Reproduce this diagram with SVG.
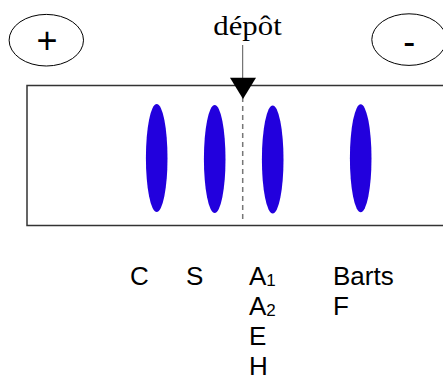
<svg xmlns="http://www.w3.org/2000/svg" width="443" height="376" viewBox="0 0 443 376">
<style>
.lbl{font-family:"Liberation Sans",Arial,sans-serif;font-size:26px;fill:#000}
.sub{font-size:17px}
.sign{font-family:"Liberation Sans",Arial,sans-serif;font-size:36px;fill:#000}
.band{fill:#2200dd}
.pole{fill:none;stroke:#000;stroke-width:1}
</style>
<rect width="443" height="376" fill="#fff"/>
<g id="gel"><rect x="27" y="85.5" width="430" height="140" fill="none" stroke="#333" stroke-width="1.5"/></g>
<g id="anode"><ellipse class="pole" cx="46.3" cy="40.2" rx="37.2" ry="25.8"/><text class="sign" x="47" y="53" text-anchor="middle">+</text></g>
<g id="cathode"><ellipse class="pole" cx="409" cy="39.6" rx="37.2" ry="25.8"/><text class="sign" x="409.3" y="54" text-anchor="middle">-</text></g>
<g id="bands">
<ellipse class="band" cx="156.7" cy="158" rx="10.8" ry="54"/>
<ellipse class="band" cx="214.7" cy="159" rx="10.8" ry="54"/>
<ellipse class="band" cx="272.7" cy="159.5" rx="10.8" ry="54"/>
<ellipse class="band" cx="360.7" cy="158.3" rx="10.8" ry="54"/>
</g>
<g id="connectors">
<line x1="242.7" y1="97" x2="242.7" y2="220" stroke="#777" stroke-width="1.5" stroke-dasharray="5,4"/>
<line x1="242.7" y1="45" x2="242.7" y2="80" stroke="#555" stroke-width="1"/>
<polygon points="230,77.7 256,77.7 243,99" fill="#000"/>
</g>
<g id="depot"><text x="213.3" y="35" style="font-family:'Liberation Serif','Times New Roman',serif;font-size:28px" textLength="68.4" lengthAdjust="spacingAndGlyphs">dépôt</text></g>
<g id="labels">
<text class="lbl" x="130" y="285">C</text>
<text class="lbl" x="186" y="285">S</text>
<text class="lbl" x="249" y="285">A<tspan class="sub" dy="1">1</tspan></text>
<text class="lbl" x="249" y="315">A<tspan class="sub" dy="1">2</tspan></text>
<text class="lbl" x="249" y="345">E</text>
<text class="lbl" x="249" y="375">H</text>
<text class="lbl" x="333" y="285">Barts</text>
<text class="lbl" x="333" y="315">F</text>
</g>
</svg>
